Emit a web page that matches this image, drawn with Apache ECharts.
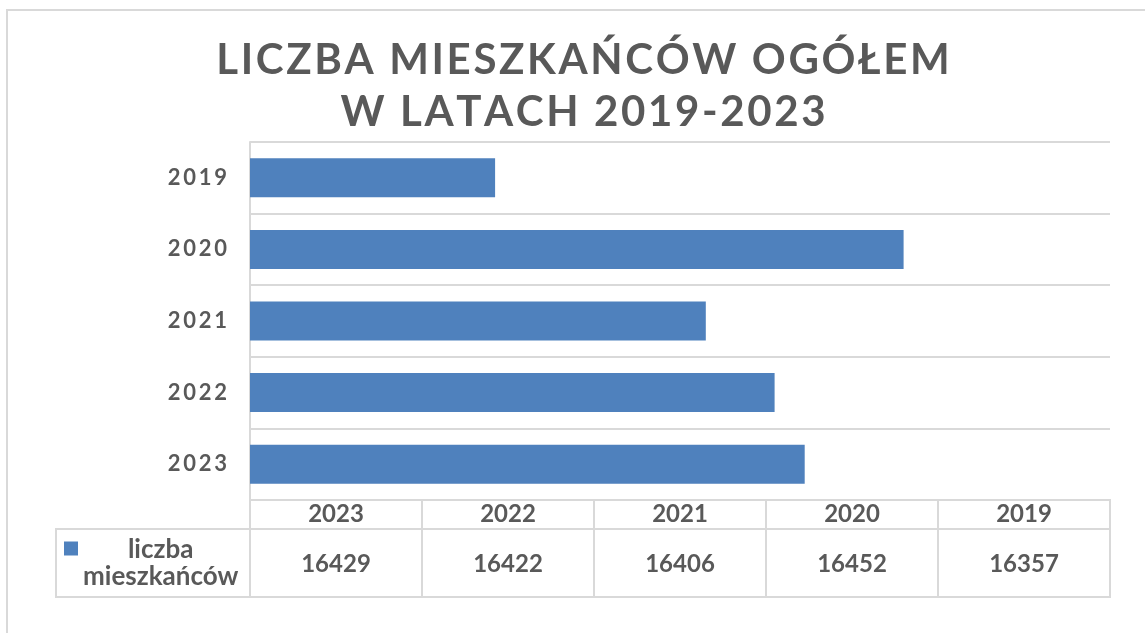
<!DOCTYPE html>
<html>
<head>
<meta charset="utf-8">
<script src="https://cdn.jsdelivr.net/npm/echarts@6/dist/echarts.min.js"></script>
<style>
  html, body { margin: 0; padding: 0; background: #fff; }
  #chart { width: 1145px; height: 633px; }
</style>
</head>
<body>
<div id="chart"></div>
<script>
// dane
const years = ['2019', '2020', '2021', '2022', '2023']
const residents = [16357, 16452, 16406, 16422, 16429]
const seriesName = 'liczba mieszkańców'
const titleLines = ['LICZBA MIESZKAŃCÓW OGÓŁEM', 'W LATACH 2019-2023']

const gray = '#595959'
const lineColor = '#d9d9d9'
const barColor = '#4f81bd'
const font = 'Lato'

// rozstrzelenie liter (jak w oryginale)
const spaced = (s, sep) => s.split('').join(sep)

// tabela danych - kolejność odwrócona
const tableYears = years.slice().reverse()
const tableValues = residents.slice().reverse().map(String)

const chart = echarts.init(document.getElementById('chart'))

const option = {
  animation: false,
  backgroundColor: '#fff',
  title: {
    text: titleLines.map(l => spaced(l, '\u200A')).join('\n'),
    left: 578,
    top: 29,
    textAlign: 'center',
    textStyle: {
      fontFamily: font,
      fontWeight: 'bold',
      fontSize: 42,
      lineHeight: 52,
      color: gray
    }
  },
  legend: {
    left: 64,
    top: 537,
    padding: 0,
    itemWidth: 14,
    itemHeight: 14,
    itemGap: 5,
    icon: 'rect',
    data: [seriesName],
    formatter: name => name.split(' ').map(w => '{a|' + w + '}').join('\n'),
    textStyle: {
      padding: [30, 0, 0, 0],
      rich: {
        a: {
          fontFamily: font,
          fontWeight: 'bold',
          fontSize: 26,
          lineHeight: 27,
          color: gray,
          align: 'center'
        }
      }
    }
  },
  grid: [
    { left: 250, right: 35, top: 142, height: 358 },
    { left: 250, right: 35, top: 500, height: 29, show: true, borderColor: lineColor, borderWidth: 2 },
    { left: 250, right: 35, top: 529, height: 68, show: true, borderColor: lineColor, borderWidth: 2 }
  ],
  xAxis: [
    {
      type: 'value',
      gridIndex: 0,
      min: 16300,
      max: 16500,
      axisLabel: { show: false },
      axisLine: { show: false },
      axisTick: { show: false },
      splitLine: { show: false }
    },
    {
      type: 'category',
      gridIndex: 1,
      data: tableYears,
      position: 'bottom',
      axisLine: { show: false },
      axisTick: { show: false },
      splitLine: { show: true, interval: 0, lineStyle: { color: lineColor, width: 2 } },
      axisLabel: {
        inside: true,
        margin: 3,
        interval: 0,
        fontFamily: font,
        fontWeight: 'bold',
        fontSize: 24,
        color: gray
      }
    },
    {
      type: 'category',
      gridIndex: 2,
      data: tableValues,
      position: 'bottom',
      axisLine: { show: false },
      axisTick: { show: false },
      splitLine: { show: true, interval: 0, lineStyle: { color: lineColor, width: 2 } },
      axisLabel: {
        inside: true,
        margin: 21,
        interval: 0,
        fontFamily: font,
        fontWeight: 'bold',
        fontSize: 24,
        color: gray
      }
    }
  ],
  yAxis: [
    {
      type: 'category',
      gridIndex: 0,
      data: years,
      inverse: true,
      axisLine: { show: true, lineStyle: { color: lineColor, width: 2 } },
      axisTick: { show: false },
      splitLine: { show: true, interval: 0, lineStyle: { color: lineColor, width: 2 } },
      axisLabel: {
        margin: 23,
        interval: 0,
        formatter: v => spaced(v, '\u2009'),
        fontFamily: font,
        fontWeight: 'bold',
        fontSize: 22,
        color: gray
      }
    },
    { type: 'value', gridIndex: 1, show: false },
    { type: 'value', gridIndex: 2, show: false }
  ],
  graphic: [
    {
      type: 'rect',
      shape: { x: 7, y: 10, width: 1160, height: 650 },
      style: { fill: 'none', stroke: lineColor, lineWidth: 2 },
      silent: true,
      z: -1
    },
    {
      type: 'rect',
      shape: { x: 56, y: 529, width: 194, height: 68 },
      style: { fill: 'none', stroke: lineColor, lineWidth: 2 },
      silent: true
    }
  ],
  series: [
    {
      name: seriesName,
      type: 'bar',
      xAxisIndex: 0,
      yAxisIndex: 0,
      data: residents,
      barWidth: 39,
      itemStyle: { color: barColor }
    }
  ]
}

chart.setOption(option)
</script>
</body>
</html>
